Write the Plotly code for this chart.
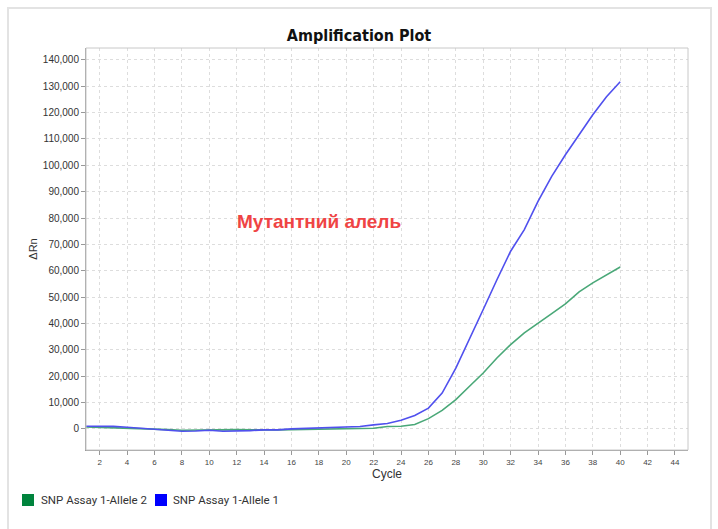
import plotly.graph_objects as go

cycles = list(range(1, 41))
allele1 = [1000, 1000, 950, 640, 260, -130, -380, -900, -770, -510,
           -900, -900, -640, -380, -380, 0, 130, 380, 510, 510,
           900, 1540, 2050, 3300, 5100, 7900, 13600, 23100, 33900, 45300,
           56600, 67400, 75600, 86300, 95800, 104000, 111600, 119200, 126000, 131700]
allele2 = [770, 640, 510, 380, 260, 0, -260, -510, -380, -260,
           -260, -260, -380, -510, -380, -260, -130, -130, 0, 0,
           130, 260, 900, 1010, 1700, 3900, 7000, 11100, 16200, 21200,
           26900, 32000, 36400, 40200, 43700, 47400, 52000, 55400, 58500, 61400]
series_names = ["SNP Assay 1-Allele 2", "SNP Assay 1-Allele 1"]
x_ticks = list(range(2, 46, 2))
y_ticks = list(range(0, 140001, 10000))
annotation_text = "Мутантний алель"
title_text = "Amplification Plot"

line_green = "#4aa878"
line_blue = "#5050ee"
legend_green = "#00843d"
legend_blue = "#0000ff"

W, H = 718, 529
ML, MR, MT, MB = 86, 30, 48, 79
PW, PH = W - ML - MR, H - MT - MB


def px(xp):
    return (xp - ML) / PW


def py(yp):
    return (H - MB - yp) / PH


fig = go.Figure()
fig.add_trace(go.Scatter(x=cycles, y=allele2, mode="lines", line=dict(color=line_green, width=1.6),
                         showlegend=False, name=series_names[0]))
fig.add_trace(go.Scatter(x=cycles, y=allele1, mode="lines", line=dict(color=line_blue, width=1.6),
                         showlegend=False, name=series_names[1]))

fig.add_annotation(x=18, y=78500, text="<b>" + annotation_text + "</b>", showarrow=False,
                   font=dict(family="Liberation Sans, Arial", size=19, color="#ef4444"))

# custom legend (swatches + labels)
legend_items = [(22, 39, legend_green, series_names[0]), (155, 171, legend_blue, series_names[1])]
for sq_x, tx_x, col, name in legend_items:
    fig.add_shape(type="rect", xref="paper", yref="paper",
                  x0=px(sq_x), x1=px(sq_x + 12), y0=py(506), y1=py(494),
                  fillcolor=col, line=dict(color=col, width=0))
    fig.add_annotation(xref="paper", yref="paper", x=px(tx_x), y=py(500), xanchor="left", yanchor="middle",
                       text=name, showarrow=False,
                       font=dict(family="Roboto", size=11.5, color="#333"))

# outer frame
fig.add_shape(type="rect", xref="paper", yref="paper", x0=px(8), x1=px(711), y0=py(560), y1=py(8),
              line=dict(color="#e3e3e3", width=2), layer="below")
# plot box
fig.add_shape(type="rect", xref="paper", yref="paper", x0=0, x1=1, y0=0, y1=1,
              line=dict(color="#c8c8c8", width=1))

fig.update_layout(
    width=W, height=H,
    margin=dict(l=ML, r=MR, t=MT, b=MB),
    paper_bgcolor="white", plot_bgcolor="white",
    title=dict(text="<b>" + title_text + "</b>", x=0.5, xref="container", xanchor="center",
               y=1 - 35 / H, yanchor="middle",
               font=dict(family="DejaVu Sans Condensed, DejaVu Sans", size=16, color="#111")),
    showlegend=False,
)
fig.update_xaxes(range=[1, 44.95], tickvals=x_ticks, ticks="outside", ticklen=4, tickcolor="#999",
                 showline=True, linecolor="#999", linewidth=1,
                 showgrid=True, gridcolor="#dddddd", griddash="dot", gridwidth=1,
                 zeroline=False,
                 tickfont=dict(family="Liberation Sans, Arial", size=8, color="#444"),
                 title=dict(text="Cycle", font=dict(family="Liberation Sans, Arial", size=12, color="#333"),
                            standoff=2))
fig.update_yaxes(range=[-8000, 144500], tickvals=y_ticks, tickformat=",d", ticks="outside", ticklen=4,
                 tickcolor="#999", showline=True, linecolor="#999", linewidth=1,
                 showgrid=True, gridcolor="#dddddd", griddash="dot", gridwidth=1,
                 zeroline=False,
                 tickfont=dict(family="Liberation Sans, Arial", size=10, color="#333"),
                 title=dict(text="ΔRn", font=dict(family="Liberation Sans, Arial", size=11, color="#333"),
                            standoff=2))

fig.write_html("out.html", config={"displayModeBar": False},
               post_script="document.body.style.margin='0';document.body.style.overflow='hidden';")
